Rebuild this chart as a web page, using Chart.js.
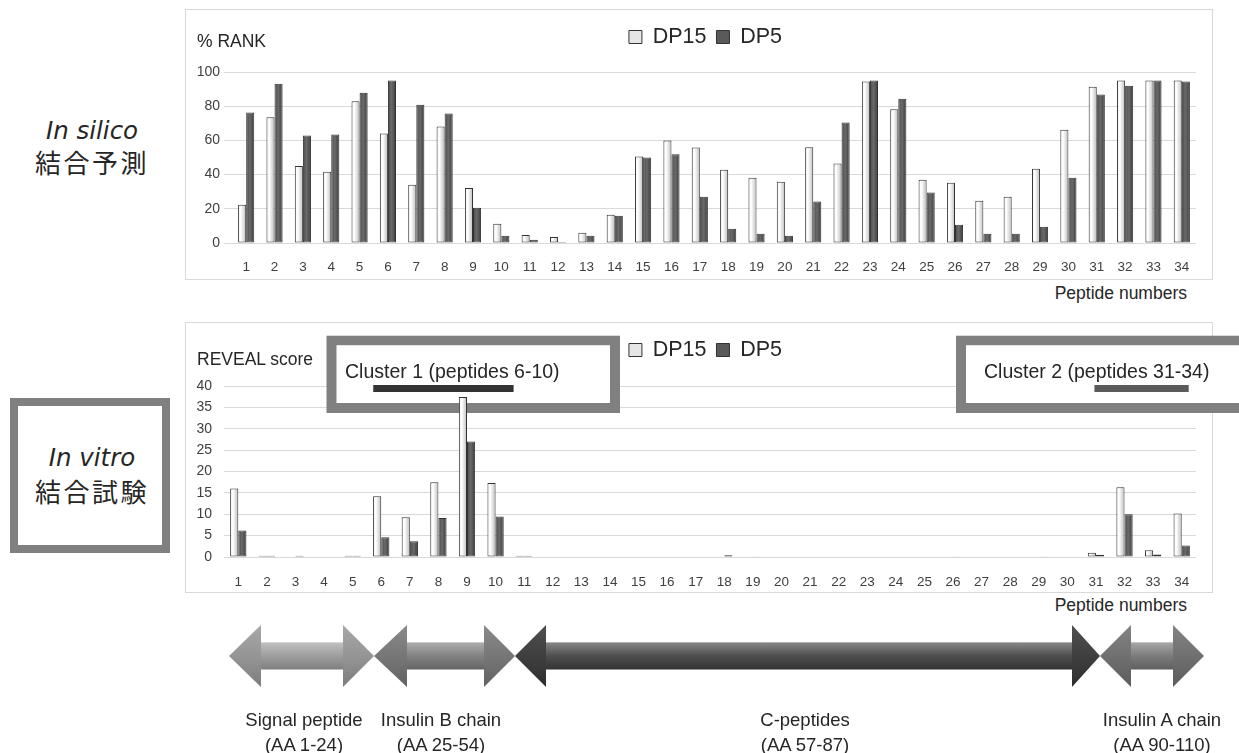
<!DOCTYPE html>
<html>
<head>
<meta charset="utf-8">
<script src="https://cdn.jsdelivr.net/npm/chart.js@4.4.1/dist/chart.umd.min.js"></script>
<style>
    body { margin: 0; width: 1239px; height: 753px; background: #fff; position: relative; overflow: hidden;
           font-family: "Liberation Sans", Arial, sans-serif; color: #262626; }
    .frame { position: absolute; border: 1px solid #d9d9d9; box-sizing: border-box; }
    .txt { position: absolute; white-space: nowrap; line-height: 1; }
    canvas { position: absolute; }
    .side { position: absolute; width: 180px; text-align: center; white-space: nowrap; line-height: 1; }
    .it { font-family: "DejaVu Sans", sans-serif; font-style: italic; font-size: 24.5px; }
    .jp { font-family: "Noto Sans CJK JP", sans-serif; font-size: 26px; letter-spacing: 2.5px; }
    .lab { position: absolute; text-align: center; font-size: 18.5px; line-height: 25px; white-space: nowrap; transform: translateX(-50%); }
</style>
</head>
<body>

<div class="frame" style="left:185px;top:9px;width:1028px;height:271px"></div>
<div class="frame" style="left:185px;top:322px;width:1028px;height:271px"></div>

<canvas id="rankChart" width="1054" height="271" style="left:185px;top:9px"></canvas>
<canvas id="revealChart" width="1054" height="271" style="left:185px;top:322px"></canvas>

<div class="txt" style="left:197px;top:33px;font-size:17.5px">% RANK</div>
<div class="txt" style="left:197px;top:351px;font-size:17.5px">REVEAL score</div>
<div class="txt" style="right:52px;top:285px;font-size:17.5px">Peptide numbers</div>
<div class="txt" style="right:52px;top:597px;font-size:17.5px">Peptide numbers</div>

<div class="side it" style="left:2px;top:119px">In silico</div>
<div class="side jp" style="left:2px;top:149px">結合予測</div>
<div style="position:absolute;left:10px;top:398px;width:160px;height:155px;border:8px solid #808080;box-sizing:border-box"></div>
<div class="side it" style="left:2px;top:446px">In vitro</div>
<div class="side jp" style="left:2px;top:478px">結合試験</div>

<svg style="position:absolute;left:0;top:0" width="1239" height="753">
    <defs>
        <linearGradient id="gS" x1="0" y1="0" x2="0" y2="1">
            <stop offset="0" stop-color="#a8a8a8"/><stop offset="0.5" stop-color="#959595"/><stop offset="1" stop-color="#7d7d7d"/>
        </linearGradient>
        <linearGradient id="gB" x1="0" y1="0" x2="0" y2="1">
            <stop offset="0" stop-color="#8a8a8a"/><stop offset="0.5" stop-color="#777777"/><stop offset="1" stop-color="#626262"/>
        </linearGradient>
        <linearGradient id="gC" x1="0" y1="0" x2="0" y2="1">
            <stop offset="0" stop-color="#4f4f4f"/><stop offset="0.5" stop-color="#3f3f3f"/><stop offset="1" stop-color="#2e2e2e"/>
        </linearGradient>
        <linearGradient id="gA" x1="0" y1="0" x2="0" y2="1">
            <stop offset="0" stop-color="#848484"/><stop offset="0.5" stop-color="#707070"/><stop offset="1" stop-color="#5c5c5c"/>
        </linearGradient>
        <linearGradient id="shine" x1="0" y1="0" x2="0" y2="1">
            <stop offset="0" stop-color="#fff" stop-opacity="0.35"/><stop offset="0.5" stop-color="#fff" stop-opacity="0.08"/><stop offset="1" stop-color="#000" stop-opacity="0.08"/>
        </linearGradient>
    </defs>
    <g id="arrows"></g>
</svg>

<div class="lab" style="left:304px;top:707px">Signal peptide<br>(AA 1-24)</div>
<div class="lab" style="left:441px;top:707px">Insulin B chain<br>(AA 25-54)</div>
<div class="lab" style="left:805px;top:707px">C-peptides<br>(AA 57-87)</div>
<div class="lab" style="left:1162px;top:707px">Insulin A chain<br>(AA 90-110)</div>

<script>
// peptide numbers on the x axis
const peptides = ['1','2','3','4','5','6','7','8','9','10','11','12','13','14','15','16','17',
                  '18','19','20','21','22','23','24','25','26','27','28','29','30','31','32','33','34'];
const seriesNames = ['DP15', 'DP5'];

// in silico binding prediction (% rank)
const rankDP15 = [22.4, 73.5, 45.1, 41.6, 82.9, 64.0, 34.0, 68.1, 32.1, 11.3, 4.7, 3.5, 6.0, 16.5, 50.6, 59.9, 55.8,
                  42.8, 38.1, 35.8, 56.0, 46.5, 94.4, 78.2, 37.0, 35.2, 24.7, 27.0, 43.4, 66.3, 91.4, 95.1, 95.1, 95.1];
const rankDP5  = [76.3, 93.2, 62.8, 63.4, 87.9, 95.1, 80.9, 75.7, 20.6, 4.3, 1.9, 0.6, 4.3, 16.0, 50.0, 51.9, 27.0,
                  8.4, 5.4, 4.3, 24.3, 70.4, 95.1, 84.4, 29.6, 10.7, 5.4, 5.4, 9.5, 38.1, 86.8, 92.0, 95.1, 94.4];
const rankTicks = [0, 20, 40, 60, 80, 100];

// in vitro binding assay (REVEAL score)
const revealDP15 = [16.0, 0.3, 0.1, 0, 0.3, 14.2, 9.3, 17.5, 37.4, 17.3, 0.3, 0, 0, 0, 0, 0, 0,
                    0, 0, 0, 0, 0, 0, 0, 0, 0, 0, 0, 0, 0, 1.0, 16.3, 1.6, 10.2];
const revealDP5  = [6.2, 0.3, 0.3, 0, 0.3, 4.6, 3.7, 9.1, 27.0, 9.5, 0.3, 0, 0, 0, 0, 0, 0,
                    0.4, 0.2, 0, 0, 0, 0, 0, 0, 0.2, 0, 0, 0.2, 0, 0.5, 10.0, 0.6, 2.7];
const revealTicks = [0, 5, 10, 15, 20, 25, 30, 35, 40];

// clusters marked on the REVEAL chart
const clusterNames = ['Cluster 1 (peptides 6-10)', 'Cluster 2 (peptides 31-34)'];
const clusterRanges = [[6, 10], [31, 34]];

const catPct = 0.57;
const font = '"Liberation Sans", Arial, sans-serif';
const legendFill = ['#e6e6e6', '#5a5a5a'];

function barFill(light) {
    return (c) => {
        const chart = c.chart;
        if (c.type !== 'data' || !chart.chartArea) return light ? '#ececec' : '#595959';
        // very short bars only show their dark outline
        if (c.raw > 0 && c.raw < 1) return '#333333';
        const xs = chart.scales.x;
        const center = xs.getPixelForValue(c.dataIndex);
        const w = xs.width / peptides.length * catPct / 2;
        const x0 = light ? center - w : center;
        const g = chart.ctx.createLinearGradient(x0, 0, x0 + w, 0);
        if (light) {
            g.addColorStop(0, '#f4f4f4');
            g.addColorStop(0.35, '#ffffff');
            g.addColorStop(1, '#bdbdbd');
        } else {
            g.addColorStop(0, '#4a4a4a');
            g.addColorStop(0.45, '#6a6a6a');
            g.addColorStop(1, '#3c3c3c');
        }
        return g;
    };
}

function datasets(a, b) {
    return [a, b].map((d, i) => ({
        label: seriesNames[i],
        data: d,
        backgroundColor: barFill(i === 0),
        borderColor: '#333333',
        borderWidth: 1,
        borderSkipped: false,
        categoryPercentage: catPct,
        barPercentage: 1.0
    }));
}

function makeOptions(cfg) {
    return {
        responsive: false,
        animation: false,
        layout: { padding: { left: 0, right: 13, top: 7.25, bottom: 0 } },
        plugins: {
            legend: {
                position: 'top',
                labels: {
                    font: { family: font, size: 21.5 }, color: '#262626', boxWidth: 13, boxHeight: 13, padding: 10,
                    generateLabels: (chart) => Chart.defaults.plugins.legend.labels.generateLabels(chart)
                        .map((l, i) => ({ ...l, fillStyle: legendFill[i], strokeStyle: '#333333', lineWidth: 1 }))
                }
            },
            title: { display: true, text: '', weight: 500, font: { size: 1, lineHeight: 1 },
                     padding: { top: cfg.gap - 1, bottom: 0 } },
            tooltip: { enabled: false }
        },
        scales: {
            x: {
                grid: { display: false },
                border: { display: false },
                ticks: { font: { family: font, size: 13.5 }, color: '#404040', padding: cfg.xPad, maxRotation: 0, autoSkip: false },
                afterFit: (s) => { s.height = cfg.xHeight; }
            },
            y: {
                min: 0, max: cfg.max,
                afterBuildTicks: (s) => { s.ticks = cfg.ticks.map(v => ({ value: v })); },
                grid: { color: '#d9d9d9', drawTicks: cfg.tickLen > 0, tickLength: cfg.tickLen, tickColor: '#d9d9d9' },
                border: { display: false },
                ticks: { font: { family: font, size: 14 }, color: '#404040', padding: cfg.yPad },
                afterFit: (s) => { s.width = cfg.yWidth; }
            },
            // empty right axis: keeps the legend centred where the reference has it
            yRight: {
                type: 'linear', position: 'right',
                grid: { display: false }, border: { display: false }, ticks: { display: false },
                afterFit: (s) => { s.width = 30; }
            }
        }
    };
}

const clusterPlugin = {
    id: 'clusters',
    beforeDatasetsDraw(chart) {
        const ctx = chart.ctx;
        const xs = chart.scales.x;
        const boxes = [
            { left: 141.5, right: 435, text: 160, bar: '#333333', padL: 8, padR: 18 },
            { left: 771, right: 1080, text: 799, bar: '#5a5a5a', padL: 1.5, padR: 7 }
        ];
        ctx.save();
        boxes.forEach((b, i) => {
            ctx.fillStyle = '#808080';
            ctx.fillRect(b.left, 13.7, b.right - b.left, 77.3);
            ctx.fillStyle = '#ffffff';
            ctx.fillRect(b.left + 10, 23.2, b.right - b.left - 20, 57.8);
            ctx.fillStyle = '#262626';
            ctx.font = '19.5px ' + font;
            ctx.textBaseline = 'middle';
            ctx.fillText(clusterNames[i], b.text, 50.5);
            const x0 = xs.getPixelForValue(clusterRanges[i][0] - 1) - b.padL;
            const x1 = xs.getPixelForValue(clusterRanges[i][1] - 1) + b.padR;
            ctx.fillStyle = b.bar;
            ctx.fillRect(x0, 63, x1 - x0, 7);
        });
        ctx.restore();
    }
};

new Chart(document.getElementById('rankChart'), {
    type: 'bar',
    data: { labels: peptides, datasets: datasets(rankDP15, rankDP5) },
    options: makeOptions({ gap: 14.25, max: 100, ticks: rankTicks, tickLen: 8, yPad: 4, yWidth: 47, xHeight: 37, xPad: 8 })
});

new Chart(document.getElementById('revealChart'), {
    type: 'bar',
    data: { labels: peptides, datasets: datasets(revealDP15, revealDP5) },
    options: makeOptions({ gap: 15.25, max: 40, ticks: revealTicks, tickLen: 0, yPad: 12, yWidth: 39, xHeight: 36, xPad: 9 }),
    plugins: [clusterPlugin]
});

// region arrows: [left tip, left head base, right head base, right tip]
const arrowX = [[229, 261, 343, 374], [374, 407, 484, 515], [515, 546, 1072, 1100], [1100, 1131, 1173, 1204]];
const arrowFill = ['gS', 'gB', 'gC', 'gA'];
const g = document.getElementById('arrows');
const cy = 656, hh = 31, sh = 13.5;
arrowX.forEach(([l, bl, br, r], i) => {
    const pts = [[l, cy], [bl, cy - hh], [bl, cy - sh], [br, cy - sh], [br, cy - hh], [r, cy],
                 [br, cy + hh], [br, cy + sh], [bl, cy + sh], [bl, cy + hh]];
    const poly = document.createElementNS('http://www.w3.org/2000/svg', 'polygon');
    poly.setAttribute('points', pts.map(p => p.join(',')).join(' '));
    poly.setAttribute('fill', 'url(#' + arrowFill[i] + ')');
    g.appendChild(poly);
    const shaft = document.createElementNS('http://www.w3.org/2000/svg', 'rect');
    shaft.setAttribute('x', bl); shaft.setAttribute('y', cy - sh);
    shaft.setAttribute('width', br - bl); shaft.setAttribute('height', 2 * sh);
    shaft.setAttribute('fill', 'url(#shine)');
    g.appendChild(shaft);
});
</script>
</body>
</html>
